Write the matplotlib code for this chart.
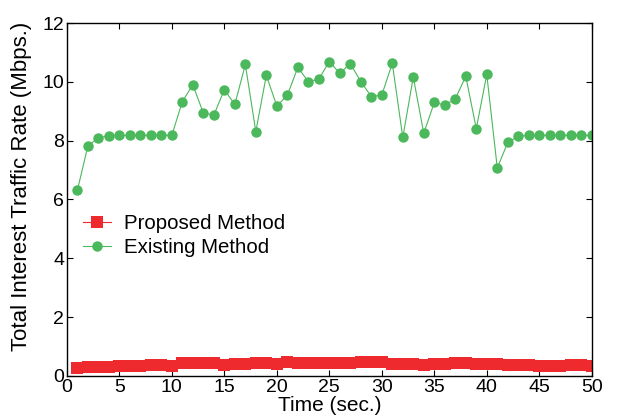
import matplotlib
matplotlib.use("Agg")
import matplotlib.pyplot as plt
import numpy as np

# time axis (sec.)
time_sec = np.arange(1, 51)

# Proposed method traffic rate (Mbps.)
proposed = [0.27, 0.31, 0.31, 0.31, 0.33, 0.33, 0.33, 0.36, 0.36, 0.33,
            0.42, 0.42, 0.42, 0.45, 0.37, 0.40, 0.40, 0.42, 0.42, 0.40,
            0.47, 0.45, 0.45, 0.45, 0.45, 0.43, 0.43, 0.48, 0.48, 0.48,
            0.41, 0.41, 0.41, 0.38, 0.40, 0.40, 0.43, 0.43, 0.40, 0.40,
            0.40, 0.36, 0.36, 0.36, 0.35, 0.35, 0.35, 0.38, 0.38, 0.33]

# Existing method traffic rate (Mbps.)
existing = [6.31, 7.81, 8.10, 8.16, 8.18, 8.18, 8.18, 8.18, 8.18, 8.18,
            9.33, 9.90, 8.94, 8.87, 9.73, 9.23, 10.59, 8.31, 10.22, 9.18,
            9.54, 10.49, 10.01, 10.09, 10.69, 10.29, 10.62, 10.01, 9.50, 9.55,
            10.63, 8.11, 10.16, 8.25, 9.30, 9.21, 9.42, 10.19, 8.41, 10.25,
            7.07, 7.94, 8.15, 8.18, 8.18, 8.18, 8.18, 8.18, 8.18, 8.18]

plt.rcParams['font.family'] = ['Liberation Sans', 'DejaVu Sans']

fig = plt.figure(figsize=(6.19, 4.19), dpi=100)
ax = fig.add_axes([0.108, 0.103, 0.848, 0.842])

ax.plot(time_sec, proposed, color='#ee2a2e', marker='s', markersize=8.5,
        linewidth=0.8, markeredgewidth=0, label='Proposed Method')
ax.plot(time_sec, existing, color='#4bb85c', marker='o', markersize=7.5,
        linewidth=0.8, markeredgewidth=0, label='Existing Method')

ax.set_xlim(0, 50)
ax.set_ylim(0, 12)
ax.set_xticks(np.arange(0, 51, 5))
ax.set_yticks(np.arange(0, 13, 2))
ax.tick_params(direction='in', top=True, right=True, length=4,
               labelsize=14, pad=2)
for sp in ax.spines.values():
    sp.set_linewidth(1.0)

ax.set_xlabel('Time (sec.)', fontsize=15, labelpad=0)
ax.set_ylabel('Total Interest Traffic Rate (Mbps.)', fontsize=16)
ax.yaxis.set_label_coords(-0.066, 0.538)

ax.legend(loc='center left', bbox_to_anchor=(0.03, 0.398), frameon=False,
          fontsize=14.7, borderpad=0, borderaxespad=0, handlelength=1.4,
          handletextpad=0.65, labelspacing=0.25)

fig.savefig('out.png', dpi=100)
